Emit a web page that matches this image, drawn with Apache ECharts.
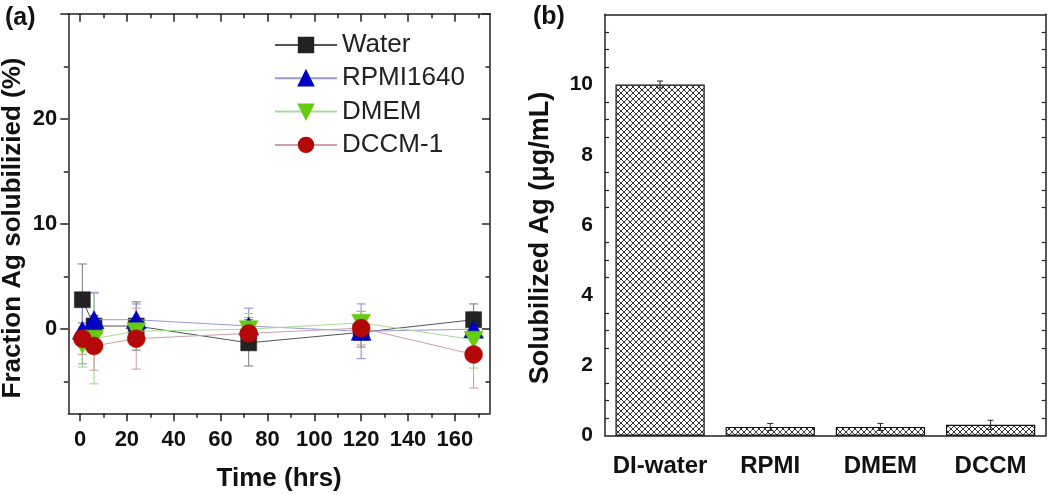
<!DOCTYPE html>
<html><head><meta charset="utf-8">
<script src="https://cdn.jsdelivr.net/npm/echarts@6/dist/echarts.min.js"></script>
<style>html,body{margin:0;padding:0;background:#fff}#c{width:1050px;height:495px}</style>
</head><body><div id="c"></div>
<script>
// ---- Panel (a) data ----
const times = [1, 6, 24, 72, 120, 168];
const waterY   = [2.8, 0.3, 0.3, -1.3, -0.3, 0.9];
const waterErr = [3.4, 1.0, 2.3, 2.2, 1.4, 1.5];
const rpmiY    = [-0.1, 0.9, 0.9, 0.3, -0.2, 0.0];
const rpmiErr  = [3.2, 2.6, 1.5, 1.7, 2.6, 1.0];
const dmemY    = [-1.5, -0.9, -0.2, 0.0, 0.6, -1.0];
const dmemErr  = [2.1, 4.3, 1.0, 1.5, 1.1, 2.7];
const dccmY    = [-0.9, -1.6, -0.9, -0.4, 0.1, -2.4];
const dccmErr  = [1.5, 2.3, 2.9, 1.5, 1.6, 3.2];
const xMajorTicks = [0, 20, 40, 60, 80, 100, 120, 140, 160];
const xMinorTicks = [10, 30, 50, 70, 90, 110, 130, 150, 170];
const yMajorTicks = [0, 10, 20, 30];
const yMajorLabels = [0, 10, 20];
const yMinorTicks = [-5, 5, 15, 25];
// ---- Panel (b) data ----
const media = ['DI-water', 'RPMI', 'DMEM', 'DCCM'];
const solubilized = [10.0, 0.25, 0.25, 0.31];
const solubilizedErr = [0.1, 0.1, 0.1, 0.13];

const FONT = 'Liberation Sans, Arial, sans-serif';
const AX = '#222';

function hatch() {
  const c = document.createElement('canvas');
  c.width = 6; c.height = 6;
  const g = c.getContext('2d');
  g.fillStyle = '#fff'; g.fillRect(0, 0, 6, 6);
  g.strokeStyle = '#333'; g.lineWidth = 1;
  g.beginPath();
  g.moveTo(-1, -1); g.lineTo(7, 7);
  g.moveTo(7, -1); g.lineTo(-1, 7);
  g.stroke();
  return c;
}

function errRender(color, hw) {
  return function (params, api) {
    const x = api.value(0), y = api.value(1), e = api.value(2);
    const t = api.coord([x, y + e]), b = api.coord([x, y - e]);
    const st = { stroke: color, lineWidth: 1 };
    return { type: 'group', children: [
      { type: 'line', shape: { x1: t[0], y1: t[1], x2: b[0], y2: b[1] }, style: st },
      { type: 'line', shape: { x1: t[0] - hw, y1: t[1], x2: t[0] + hw, y2: t[1] }, style: st },
      { type: 'line', shape: { x1: b[0] - hw, y1: b[1], x2: b[0] + hw, y2: b[1] }, style: st }
    ]};
  };
}

function axLine(show) { return { show: show, onZero: false, lineStyle: { color: AX, width: 1.5 } }; }
const tickStyle = { color: AX, width: 1.5 };
const labelFont = { fontWeight: 'bold', color: '#111', fontFamily: FONT };

const xa = [
  { gridIndex: 0, type: 'value', position: 'bottom', min: -5, max: 175,
    axisLine: axLine(true), splitLine: { show: false },
    axisTick: { customValues: xMajorTicks, length: 8, lineStyle: tickStyle },
    axisLabel: Object.assign({ customValues: xMajorTicks, margin: 16, fontSize: 22 }, labelFont),
    name: 'Time (hrs)', nameLocation: 'middle', nameGap: 53,
    nameTextStyle: Object.assign({ fontSize: 26 }, labelFont) },
  { gridIndex: 0, type: 'value', position: 'bottom', min: -5, max: 175,
    axisLine: axLine(false), splitLine: { show: false },
    axisTick: { customValues: xMinorTicks, length: 4.5, lineStyle: tickStyle },
    axisLabel: { show: false } },
  { gridIndex: 0, type: 'value', position: 'top', min: -5, max: 175,
    axisLine: axLine(true), splitLine: { show: false },
    axisTick: { customValues: xMajorTicks, inside: true, length: 8, lineStyle: tickStyle },
    axisLabel: { show: false } },
  { gridIndex: 0, type: 'value', position: 'top', min: -5, max: 175,
    axisLine: axLine(false), splitLine: { show: false },
    axisTick: { customValues: xMinorTicks, inside: true, length: 4.5, lineStyle: tickStyle },
    axisLabel: { show: false } },
  { gridIndex: 1, type: 'category', position: 'bottom', data: media,
    axisLine: axLine(true), axisTick: { show: false },
    axisLabel: Object.assign({ interval: 0, margin: 19, fontSize: 24 }, labelFont) },
  { gridIndex: 1, type: 'category', position: 'top', data: media,
    axisLine: axLine(true), axisTick: { show: false }, axisLabel: { show: false } }
];

const ya = [
  { gridIndex: 0, type: 'value', position: 'left', min: -8, max: 30,
    axisLine: axLine(true), splitLine: { show: false },
    axisTick: { customValues: yMajorTicks, length: 8, lineStyle: tickStyle },
    axisLabel: Object.assign({ customValues: yMajorLabels, margin: 11, fontSize: 22 }, labelFont),
    name: 'Fraction Ag solubilizied (%)', nameLocation: 'middle', nameGap: 42,
    nameTextStyle: Object.assign({ fontSize: 26, padding: [0, 29, 0, 0] }, labelFont) },
  { gridIndex: 0, type: 'value', position: 'left', min: -8, max: 30,
    axisLine: axLine(false), splitLine: { show: false },
    axisTick: { customValues: yMinorTicks, length: 4.5, lineStyle: tickStyle },
    axisLabel: { show: false } },
  { gridIndex: 0, type: 'value', position: 'right', min: -8, max: 30,
    axisLine: axLine(true), splitLine: { show: false },
    axisTick: { customValues: yMajorTicks, inside: true, length: 8, lineStyle: tickStyle },
    axisLabel: { show: false } },
  { gridIndex: 0, type: 'value', position: 'right', min: -8, max: 30,
    axisLine: axLine(false), splitLine: { show: false },
    axisTick: { customValues: yMinorTicks, inside: true, length: 4.5, lineStyle: tickStyle },
    axisLabel: { show: false } },
  { gridIndex: 1, type: 'value', position: 'left', min: 0, max: 12, interval: 2,
    axisLine: axLine(true), splitLine: { show: false },
    axisTick: { inside: true, length: 7, lineStyle: tickStyle },
    minorTick: { show: true, splitNumber: 4, length: 4, lineStyle: { color: AX, width: 1.2 } },
    axisLabel: Object.assign({ showMaxLabel: false, margin: 12, fontSize: 21 }, labelFont),
    name: 'Solubilized Ag (\u03bcg/mL)', nameLocation: 'middle', nameGap: 51,
    nameTextStyle: Object.assign({ fontSize: 27, padding: [0, 26, 0, 0] }, labelFont) },
  { gridIndex: 1, type: 'value', position: 'right', min: 0, max: 12, interval: 2,
    axisLine: axLine(true), splitLine: { show: false },
    axisTick: { inside: true, length: 7, lineStyle: tickStyle },
    minorTick: { show: true, splitNumber: 4, length: 4, lineStyle: { color: AX, width: 1.2 } },
    axisLabel: { show: false } }
];

function pts(ys) { return times.map((t, i) => [t, ys[i]]); }
function errPts(ys, es) { return times.map((t, i) => [t, ys[i], es[i]]); }

const defs = [
  { name: 'Water', ys: waterY, es: waterErr, line: '#555', err: '#777', fill: '#222', symbol: 'rect', size: 16 },
  { name: 'RPMI1640', ys: rpmiY, es: rpmiErr, line: '#9a9ad0', err: '#8a8ad8', fill: '#0000c4', symbol: 'triangle', size: [20, 18] },
  { name: 'DMEM', ys: dmemY, es: dmemErr, line: '#a8dc98', err: '#9fcf80', fill: '#66cc11', symbol: 'path://M0,0 L10,0 L5,9 Z', size: [19, 17] },
  { name: 'DCCM-1', ys: dccmY, es: dccmErr, line: '#cfa0a8', err: '#cf9a9a', fill: '#b40808', symbol: 'circle', size: 18 }
];

const series = [];
defs.forEach(d => {
  series.push({ type: 'custom', xAxisIndex: 0, yAxisIndex: 0, silent: true, z: 1,
    renderItem: errRender(d.err, 4.5), data: errPts(d.ys, d.es), encode: { x: 0, y: 1 } });
});
defs.forEach((d, i) => {
  series.push({ type: 'line', name: d.name, xAxisIndex: 0, yAxisIndex: 0, z: 3 + i,
    data: pts(d.ys), symbol: d.symbol, symbolSize: d.size,
    lineStyle: { color: d.line, width: 1 },
    itemStyle: { color: d.fill, borderColor: d.fill, borderWidth: 0.5 } });
});
series.push({ type: 'bar', xAxisIndex: 4, yAxisIndex: 4, barWidth: '81%', data: solubilized,
  itemStyle: { color: { image: hatch(), repeat: 'repeat' }, borderColor: '#111', borderWidth: 1.2 } });
series.push({ type: 'custom', xAxisIndex: 4, yAxisIndex: 4, silent: true, z: 5,
  renderItem: errRender('#222', 3), data: media.map((m, i) => [i, solubilized[i], solubilizedErr[i]]),
  encode: { x: 0, y: 1 } });

const chart = echarts.init(document.getElementById('c'), null, { renderer: 'canvas' });
chart.setOption({
  animation: false,
  backgroundColor: '#fff',
  grid: [
    { left: 68.3, top: 13.7, width: 421.7, height: 399.6, outerBoundsMode: 'none', containLabel: false },
    { left: 605, top: 14.3, width: 440.7, height: 421.4, outerBoundsMode: 'none', containLabel: false }
  ],
  xAxis: xa,
  yAxis: ya,
  legend: {
    data: defs.map(d => d.name), orient: 'vertical', left: 274, top: 32, padding: 0,
    itemWidth: 62, itemHeight: 18, itemGap: 7.3,
    textStyle: { fontSize: 26, color: '#222', fontFamily: FONT, lineHeight: 26 }
  },
  graphic: [
    { type: 'text', left: 5, top: 6, style: { text: '(a)', font: 'bold 25px ' + FONT, fill: '#111' } },
    { type: 'text', left: 533, top: 5, style: { text: '(b)', font: 'bold 25px ' + FONT, fill: '#111' } }
  ],
  series: series
});
</script></body></html>
